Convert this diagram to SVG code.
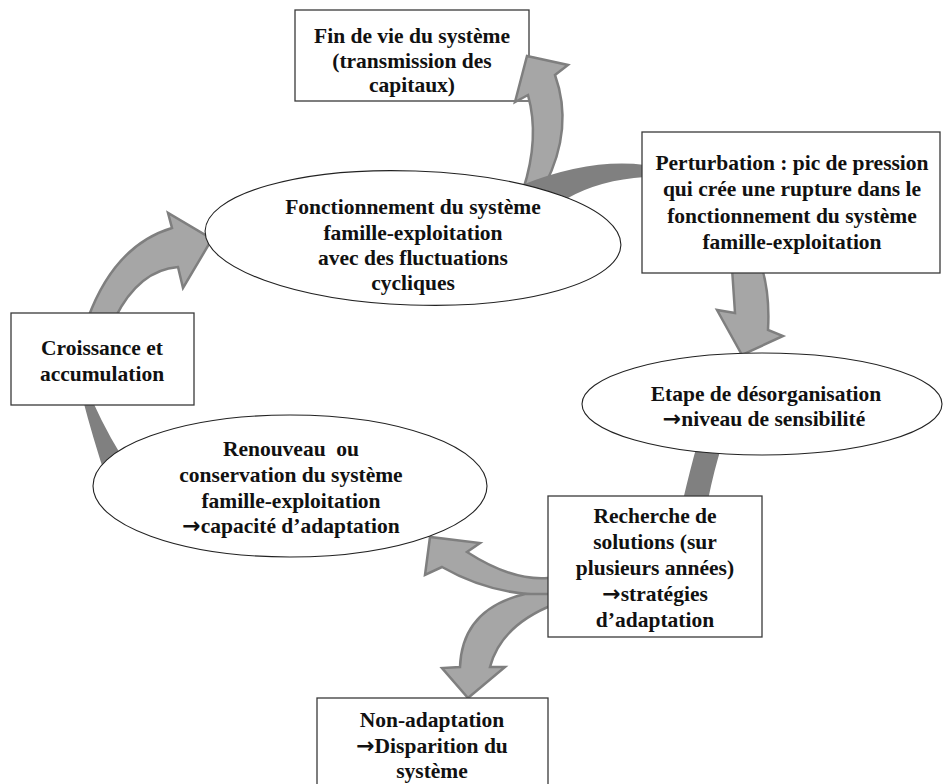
<svg xmlns="http://www.w3.org/2000/svg" width="943" height="784" viewBox="0 0 943 784">
<style>
.box{fill:#fff;stroke:#3a3a3a;stroke-width:1.3}
.ell{fill:#fff;stroke:#222;stroke-width:1.1}
.arr{fill:#a6a6a6;stroke:#7f7f7f;stroke-width:2.5;stroke-linejoin:miter}
.band{fill:#808080;stroke:none}
text{font-family:"Liberation Serif","Times New Roman",serif;font-weight:bold;font-size:21.5px;fill:#111;text-anchor:middle}
.ar{font-family:"DejaVu Sans",sans-serif;font-weight:bold;font-size:22px}
</style>
<rect width="943" height="784" fill="#fff"/>
<g id="node-fin">
  <rect class="box" x="295" y="10" width="234" height="91"/>
  <text x="412" y="43">Fin de vie du système</text>
  <text x="412" y="68">(transmission des</text>
  <text x="412" y="92">capitaux)</text>
</g>
<g id="connectors">
  <path class="arr" d="M523,190 Q540,138 528,95 L515,102 L527,56 L568,65 L555,75 Q574,128 545,185 Z"/>
  <path class="band" d="M645,165 Q590,158 522,185 L530,200 L568,198 Q600,180 645,177 Z"/>
  <path class="arr" d="M732,268 L735,313 L717,310 L742,355 L783,336 L768,330 Q770,295 762,268 Z"/>
  <path class="band" d="M697,445 Q690,470 683,500 L708,500 Q714,470 722,445 Z"/>
  <path class="arr" d="M555,578 L548,578 Q512,581 467,552 L480,543 L430,537 L425,575 L442,567 Q491,595 548,595 L555,595 Z"/>
  <path class="arr" d="M555,594 L525,594 Q462,609 460,667 L442,668 L468,698 L505,667 L490,667 Q501,625 555,604 Z"/>
  <path class="band" d="M83,400 Q92,435 106,478 L132,472 Q110,440 92,400 Z"/>
  <path class="arr" d="M88,318 Q115,245 172,228 L168,213 L212,239 L183,288 L178,267 Q139,270 115,318 Z"/>
</g>
<g id="node-fonctionnement">
  <ellipse class="ell" cx="413" cy="238" rx="208" ry="67" transform="rotate(2 413 238)"/>
  <text x="413" y="214">Fonctionnement du système</text>
  <text x="413" y="240">famille-exploitation</text>
  <text x="413" y="265">avec des fluctuations</text>
  <text x="413" y="290">cycliques</text>
</g>
<g id="node-perturbation">
  <rect class="box" x="642" y="132" width="298" height="141"/>
  <text x="792" y="170">Perturbation : pic de pression</text>
  <text x="792" y="196">qui crée une rupture dans le</text>
  <text x="792" y="223">fonctionnement du système</text>
  <text x="792" y="249">famille-exploitation</text>
</g>
<g id="node-etape">
  <ellipse class="ell" cx="762" cy="404" rx="180" ry="51"/>
  <text x="766" y="401">Etape de désorganisation</text>
  <text x="764" y="426"><tspan class="ar">→</tspan>niveau de sensibilité</text>
</g>
<g id="node-croissance">
  <rect class="box" x="11" y="313" width="183" height="92"/>
  <text x="102" y="355">Croissance et</text>
  <text x="102" y="381">accumulation</text>
</g>
<g id="node-renouveau">
  <ellipse class="ell" cx="290" cy="486" rx="197" ry="71"/>
  <text x="291" y="456" xml:space="preserve">Renouveau  ou</text>
  <text x="291" y="482">conservation du système</text>
  <text x="291" y="508">famille-exploitation</text>
  <text x="291" y="533"><tspan class="ar">→</tspan>capacité d’adaptation</text>
</g>
<g id="node-recherche">
  <rect class="box" x="548" y="496" width="214" height="141"/>
  <text x="655" y="523">Recherche de</text>
  <text x="655" y="549">solutions (sur</text>
  <text x="655" y="575">plusieurs années)</text>
  <text x="655" y="601"><tspan class="ar">→</tspan>stratégies</text>
  <text x="655" y="627">d’adaptation</text>
</g>
<g id="node-nonadaptation">
  <rect class="box" x="317" y="698" width="231" height="100"/>
  <text x="432" y="727">Non-adaptation</text>
  <text x="432" y="753"><tspan class="ar">→</tspan>Disparition du</text>
  <text x="432" y="778">système</text>
</g>
</svg>
